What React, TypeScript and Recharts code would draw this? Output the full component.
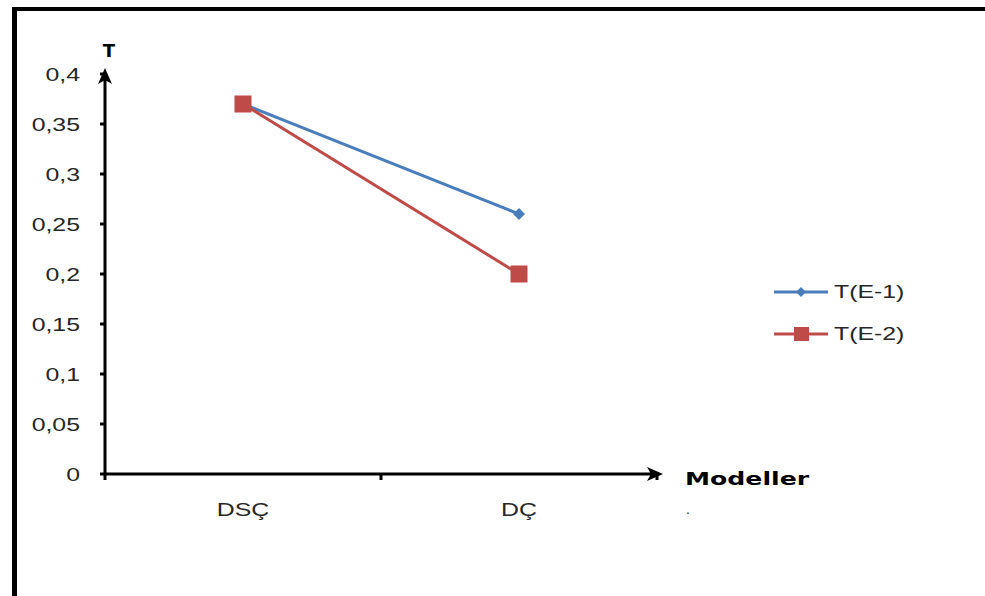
import React from 'react';
import { LineChart, Line, XAxis, YAxis } from 'recharts';

const categories = ['DSÇ', 'DÇ'];
const seriesE1 = [0.37, 0.26];
const seriesE2 = [0.37, 0.2];
const seriesNames = ['T(E-1)', 'T(E-2)'];
const seriesColors = ['#4a7ebb', '#be4b48'];
const yTicks = [0, 0.05, 0.1, 0.15, 0.2, 0.25, 0.3, 0.35, 0.4];
const xTicks = [0, 0.5, 1, 1.5, 2];
const yTitle = 'T';
const xTitle = 'Modeller';

const data = categories.map((c, i) => ({ pos: i + 0.5, name: c, e1: seriesE1[i], e2: seriesE2[i] }));

const SX = 1.38;
const FONT = '"Liberation Sans", Arial, sans-serif';
const BOLD = '"DejaVu Sans", sans-serif';

const fmt = (v: number) => String(v).replace('.', ',');

const YTick = (props: any) => {
  const { x, y, payload } = props;
  return (
    <text
      transform={`translate(${x},${y + 6.5}) scale(${SX},1)`}
      textAnchor="end"
      fontFamily={FONT}
      fontSize={18}
      fill="#262626"
    >
      {fmt(payload.value)}
    </text>
  );
};

const XTick = (props: any) => {
  const { x, y, payload } = props;
  const v = payload.value as number;
  if (Number.isInteger(v)) {
    return <line x1={x} x2={x} y1={y} y2={y + 6} stroke="#000" strokeWidth={3} />;
  }
  const label = categories[Math.floor(v)];
  return (
    <text
      transform={`translate(${x},${y + 42}) scale(${SX},1)`}
      textAnchor="middle"
      fontFamily={FONT}
      fontSize={18}
      fill="#262626"
    >
      {label}
    </text>
  );
};

const Diamond = (props: any) => {
  const { cx, cy, stroke } = props;
  if (cx == null || cy == null) return null;
  const r = 6;
  return <path d={`M${cx},${cy - r} L${cx + r},${cy} L${cx},${cy + r} L${cx - r},${cy} Z`} fill={stroke} />;
};

const Square = (props: any) => {
  const { cx, cy, stroke } = props;
  if (cx == null || cy == null) return null;
  const s = 17;
  return <rect x={cx - s / 2} y={cy - s / 2} width={s} height={s} fill={stroke} />;
};

const YLabel = (props: any) => {
  const vb = props.viewBox || {};
  return (
    <text
      x={vb.x + vb.width + 4}
      y={vb.y - 17}
      textAnchor="middle"
      fontFamily={BOLD}
      fontWeight="bold"
      fontSize={18}
      fill="#000"
    >
      {yTitle}
    </text>
  );
};

const XLabel = (props: any) => {
  const vb = props.viewBox || {};
  const x = vb.x + vb.width + 28;
  const y = vb.y + 11;
  return (
    <g>
      <text
        transform={`translate(${x},${y}) scale(1.4,1)`}
        textAnchor="start"
        fontFamily={BOLD}
        fontWeight="bold"
        fontSize={18}
        fill="#000"
      >
        {xTitle}
      </text>
      <text x={x + 1} y={y + 29} fontFamily={FONT} fontSize={14} fill="#333">.</text>
    </g>
  );
};

const LegendIcon = ({ idx }: { idx: number }) => (
  <svg width={56} height={20} style={{ display: 'block' }}>
    <line x1={0} x2={54} y1={10} y2={10} stroke={seriesColors[idx]} strokeWidth={3} />
    {idx === 0 ? (
      <path d="M27,5 L32,10 L27,15 L22,10 Z" fill={seriesColors[idx]} />
    ) : (
      <rect x={20} y={3} width={15} height={14} fill={seriesColors[idx]} />
    )}
  </svg>
);

export default function App() {
  return (
    <div style={{ position: 'absolute', left: 0, top: 0, width: 985, height: 596, background: '#fff', overflow: 'hidden' }}>
      <svg width={0} height={0} style={{ position: 'absolute' }}>
        <defs>
          <marker
            id="axisArrow"
            markerWidth={18}
            markerHeight={16}
            refX={10}
            refY={8}
            orient="auto-start-reverse"
            markerUnits="userSpaceOnUse"
          >
            <path d="M0,1 L16,8 L0,15 L4,8 Z" fill="#000" />
          </marker>
        </defs>
      </svg>
      <div
        style={{
          position: 'absolute',
          left: 12,
          top: 7,
          width: 985,
          height: 600,
          borderTop: '4px solid #000',
          borderLeft: '5px solid #000',
        }}
      />
      <div style={{ position: 'absolute', left: 0, top: 0 }}>
        <LineChart width={985} height={596} data={data} margin={{ top: 74, right: 328, bottom: 92, left: 45 }}>
          <XAxis
            dataKey="pos"
            type="number"
            domain={[0, 2]}
            ticks={xTicks}
            interval={0}
            height={30}
            tickSize={0}
            tickMargin={0}
            tickLine={false}
            axisLine={{ stroke: '#000', strokeWidth: 3, markerEnd: 'url(#axisArrow)' }}
            tick={<XTick />}
            label={{ content: <XLabel /> }}
          />
          <YAxis
            type="number"
            domain={[0, 0.4]}
            ticks={yTicks}
            interval={0}
            width={60}
            tickSize={5}
            tickMargin={20}
            tickLine={{ stroke: '#000', strokeWidth: 3 }}
            axisLine={{ stroke: '#000', strokeWidth: 3, markerStart: 'url(#axisArrow)' }}
            tick={<YTick />}
            label={{ content: <YLabel /> }}
          />
          <Line
            type="linear"
            dataKey="e1"
            name={seriesNames[0]}
            stroke={seriesColors[0]}
            strokeWidth={3}
            dot={<Diamond />}
            activeDot={false}
            isAnimationActive={false}
          />
          <Line
            type="linear"
            dataKey="e2"
            name={seriesNames[1]}
            stroke={seriesColors[1]}
            strokeWidth={3}
            dot={<Square />}
            activeDot={false}
            isAnimationActive={false}
          />
        </LineChart>
      </div>
      {seriesNames.map((n, i) => (
        <div
          key={n}
          style={{
            position: 'absolute',
            left: 774,
            top: 282 + i * 42,
            display: 'flex',
            alignItems: 'center',
            height: 20,
          }}
        >
          <LegendIcon idx={i} />
          <span
            style={{
              fontFamily: FONT,
              fontSize: 18,
              color: '#262626',
              display: 'inline-block',
              transform: `scale(${SX},1)`,
              transformOrigin: 'left center',
              marginLeft: 4,
              lineHeight: '20px',
            }}
          >
            {n}
          </span>
        </div>
      ))}
    </div>
  );
}
